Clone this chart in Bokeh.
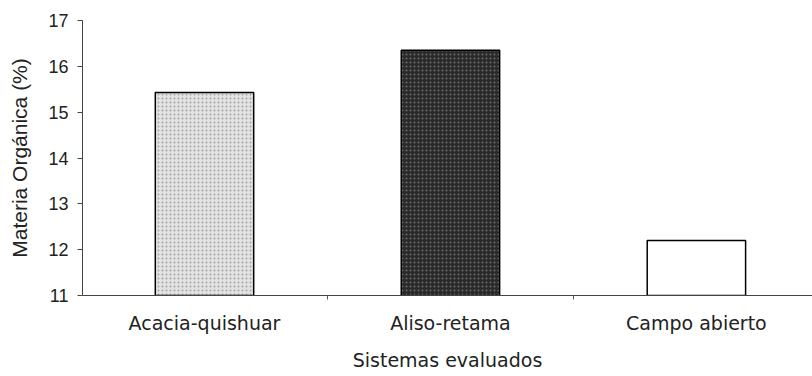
from bokeh.plotting import figure
from bokeh.models import Range1d, FixedTicker, ColumnDataSource
from bokeh.embed import file_html
from bokeh.resources import INLINE

categories = ["Acacia-quishuar", "Aliso-retama", "Campo abierto"]
values = [15.43, 16.35, 12.2]
fills = ["#e2e2e2", "#2a2a2a", "#ffffff"]
hatches = ["dot", "dot", " "]
hatch_colors = ["#a8a8a8", "#6a6a6a", "#ffffff"]
y_ticks = [11, 12, 13, 14, 15, 16, 17]

pos = [i + 0.5 for i in range(len(categories))]
src = ColumnDataSource(dict(x=pos, top=values, fill=fills, hatch=hatches, hcol=hatch_colors))

p = figure(width=812, height=376, output_backend="svg", toolbar_location=None,
           x_range=Range1d(0.004, 2.972), y_range=Range1d(11, 17),
           min_border_left=82, min_border_top=20, min_border_bottom=81, min_border_right=0)
p.vbar(x="x", top="top", bottom=11, width=0.40, source=src, fill_color="fill",
       hatch_pattern="hatch", hatch_color="hcol", hatch_scale=4, hatch_weight=1,
       line_color="black", line_width=1.5)

p.outline_line_color = None
p.grid.visible = False
p.background_fill_color = "white"

hfont = "DejaVu Sans"
p.xaxis.axis_line_color = "#444444"
p.yaxis.axis_line_color = "#444444"
p.xaxis.major_label_text_font = hfont
p.yaxis.major_label_text_font = "Liberation Sans"
p.xaxis.major_label_text_color = "#222222"
p.yaxis.major_label_text_color = "#222222"

p.xaxis.ticker = FixedTicker(ticks=pos, minor_ticks=[1, 2])
p.xaxis.major_label_overrides = {pos[i]: c for i, c in enumerate(categories)}
p.xaxis.major_tick_line_color = None
p.xaxis.major_tick_out = 0
p.xaxis.major_tick_in = 0
p.xaxis.minor_tick_out = 4
p.xaxis.minor_tick_in = 0
p.xaxis.minor_tick_line_color = "#555555"
p.xaxis.axis_label = "Sistemas evaluados"
p.xaxis.axis_label_text_font = hfont
p.xaxis.axis_label_text_font_size = "19px"
p.xaxis.axis_label_text_font_style = "normal"
p.xaxis.axis_label_text_color = "#222222"
p.xaxis.major_label_text_font_size = "19px"
p.xaxis.major_label_standoff = 12
p.xaxis.axis_label_standoff = 12

p.yaxis.ticker = FixedTicker(ticks=y_ticks)
p.yaxis.minor_tick_line_color = None
p.yaxis.major_tick_line_color = "#444444"
p.yaxis.major_tick_out = 5
p.yaxis.major_tick_in = 0
p.yaxis.axis_label = "Materia Orgánica (%)"
p.yaxis.axis_label_text_font = "Liberation Sans"
p.yaxis.axis_label_text_font_size = "21px"
p.yaxis.axis_label_text_font_style = "normal"
p.yaxis.axis_label_text_color = "#222222"
p.yaxis.major_label_text_font_size = "18px"
p.yaxis.major_label_standoff = 9
p.yaxis.axis_label_standoff = 14

open("out.html", "w").write(file_html(p, INLINE))
